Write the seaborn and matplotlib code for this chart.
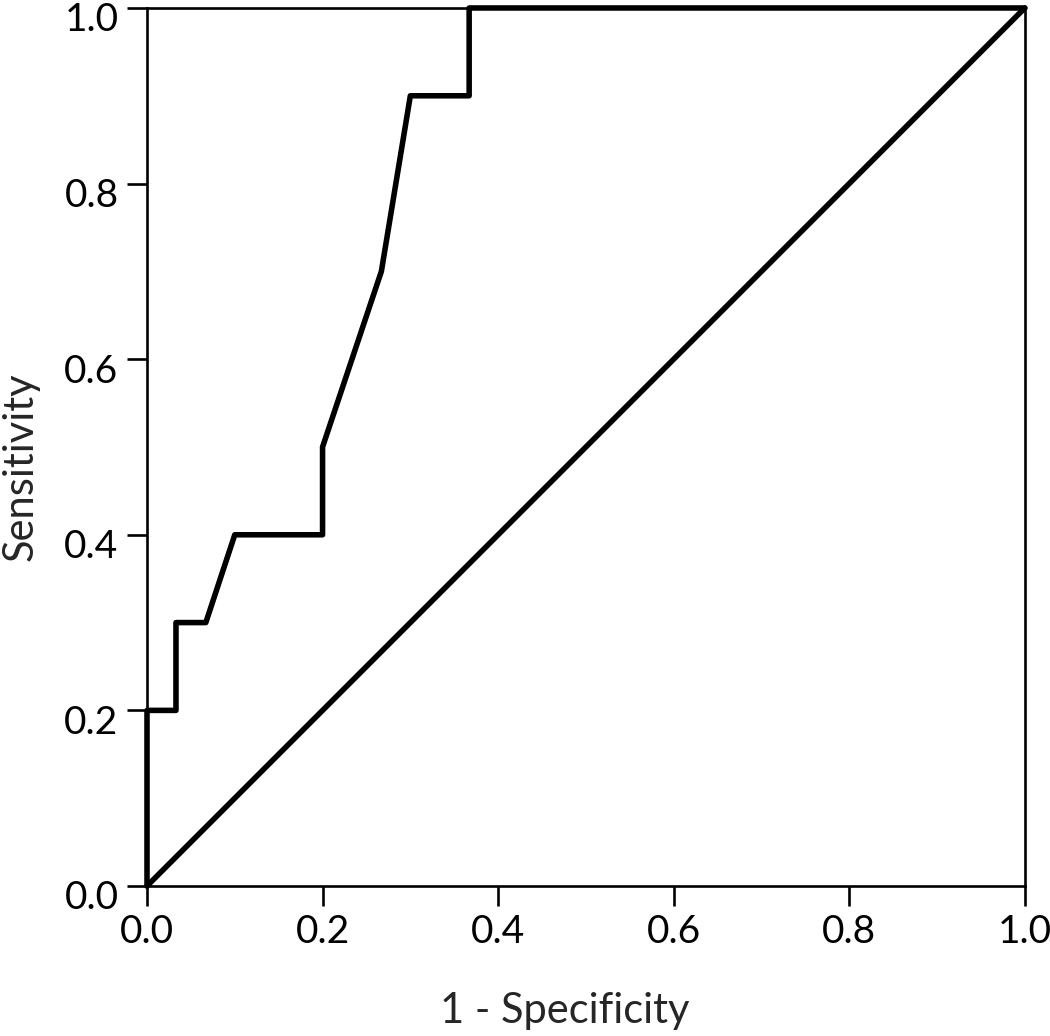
import numpy as np
import pandas as pd
import matplotlib
matplotlib.use('Agg')
import matplotlib.pyplot as plt
import matplotlib.transforms as mtransforms
import seaborn as sns

# ROC curve points (1 - specificity, sensitivity)
fpr = [0.0, 0.0, 0.033, 0.033, 0.067, 0.1, 0.2, 0.2, 0.267, 0.3, 0.367, 0.367, 1.0]
tpr = [0.0, 0.2, 0.2, 0.3, 0.3, 0.4, 0.4, 0.5, 0.7, 0.9, 0.9, 1.0, 1.0]
ref_x = [0.0, 1.0]
ref_y = [0.0, 1.0]
ticks = [0.0, 0.2, 0.4, 0.6, 0.8, 1.0]

sns.set_style('white')
plt.rcParams['font.family'] = ['Lato', 'DejaVu Sans']

fig = plt.figure(figsize=(10.5, 10.36), dpi=100)
ax = fig.add_axes([0.14, 0.1448, 0.836, 0.8475])

roc = pd.DataFrame({'fpr': fpr, 'tpr': tpr})
sns.lineplot(data=roc, x='fpr', y='tpr', sort=False, estimator=None,
             color='black', linewidth=4.0, ax=ax, clip_on=False)
sns.lineplot(x=ref_x, y=ref_y, color='black', linewidth=4.0, ax=ax, clip_on=False)

ax.set_xlim(0, 1)
ax.set_ylim(0, 1)
ax.set_xticks(ticks)
ax.set_yticks(ticks)
ax.set_xticklabels([f'{t:.1f}' for t in ticks])
ax.set_yticklabels([f'{t:.1f}' for t in ticks])
ax.tick_params(direction='out', length=14.5, width=1.9, labelsize=28, pad=6,
               bottom=True, left=True, colors='black')
for s in ax.spines.values():
    s.set_linewidth(1.9)
    s.set_color('black')

ax.set_xlabel('1 - Specificity', fontsize=30, labelpad=30)
ax.set_ylabel('Sensitivity', fontsize=30, labelpad=18)
ax.xaxis.label.set_x(0.476)
ax.yaxis.label.set_y(0.477)

# y tick labels sit a little below their ticks in the original
shift = mtransforms.ScaledTranslation(0, -9 / 100, fig.dpi_scale_trans)
for lab in ax.get_yticklabels():
    lab.set_transform(lab.get_transform() + shift)

fig.savefig('out.png', dpi=100)
